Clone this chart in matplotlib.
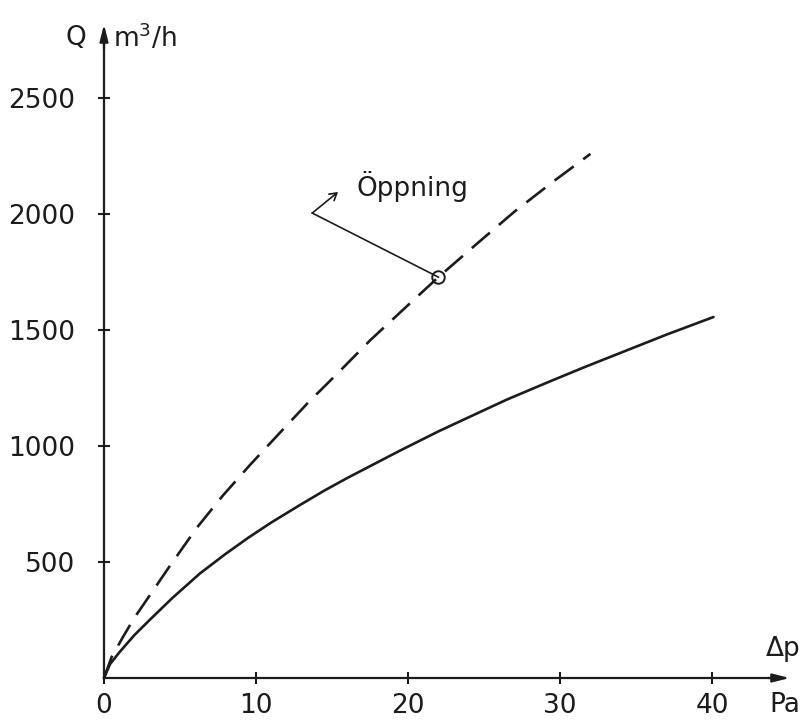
import matplotlib.pyplot as plt

# values
dp_solid = [0, 0.4, 1, 2, 3, 4.5, 6.3, 8, 9.5, 11, 12.9, 14.5, 16, 18,
            19.5, 22, 24, 26.5, 29.1, 31.5, 34, 37, 40.1]
q_solid = [0, 60, 110, 185, 250, 345, 450, 535, 605, 670, 746, 808, 862, 930,
           981, 1063, 1124, 1200, 1272, 1337, 1402, 1480, 1556]

dp_dashed = [0, 0.5, 1.25, 2, 2.8, 4.3, 6.1, 7.8, 9.6, 11.5, 13.4, 15.5,
             17.5, 19.8, 22.0, 24.5, 27.0, 29.5, 32.0]
q_dashed = [0, 90, 177, 260, 336, 480, 647, 785, 918, 1052, 1185, 1322,
            1455, 1595, 1728, 1870, 2010, 2137, 2259]

opening_point = (22.0, 1728)

x_ticks = [0, 10, 20, 30, 40]
y_ticks = [500, 1000, 1500, 2000, 2500]

ink = '#1c1c1c'
plt.rcParams['font.family'] = ['DejaVu Sans']

fig = plt.figure(figsize=(8.05, 7.21), dpi=100)
ax = fig.add_axes([0, 0, 1, 1])
ax.set_xlim(-6.842, 46.118)
ax.set_ylim(-185.3, 2922.4)

# curves
ax.plot(dp_solid, q_solid, color=ink, lw=1.9, solid_capstyle='round',
        solid_joinstyle='round')
ax.plot(dp_dashed, q_dashed, color=ink, lw=1.9, dashes=(9, 4.5))
ax.plot(*opening_point, marker='o', ms=9, mfc='none', mec=ink, mew=1.4)

# axes through the origin with arrow heads
for s in ['top', 'right']:
    ax.spines[s].set_visible(False)
ax.spines['left'].set_position(('data', 0))
ax.spines['bottom'].set_position(('data', 0))
ax.spines['left'].set_bounds(0, 2790)
ax.spines['bottom'].set_bounds(0, 44.5)
for s in ['left', 'bottom']:
    ax.spines[s].set_linewidth(1.6)
    ax.spines[s].set_color(ink)

ax.annotate('', xy=(0, 2830), xytext=(0, 2700),
            arrowprops=dict(arrowstyle='-|>,head_length=1.0,head_width=0.25',
                            color=ink, lw=1.6))
ax.annotate('', xy=(45.3, 0), xytext=(43.5, 0),
            arrowprops=dict(arrowstyle='-|>,head_length=1.0,head_width=0.25',
                            color=ink, lw=1.6))

ax.set_xticks(x_ticks)
ax.set_xticklabels([str(v) for v in x_ticks])
ax.set_yticks(y_ticks)
ax.set_yticklabels([str(v) for v in y_ticks])
ax.tick_params(axis='both', direction='inout', length=9, width=1.5,
               color=ink, labelcolor=ink, labelsize=19)
ax.tick_params(axis='x', pad=6)
ax.tick_params(axis='y', pad=16)

# axis labels
ax.text(-1.2, 2760, 'Q', fontsize=19, color=ink, ha='right', va='center')
ax.text(0.6, 2760, 'm$^3$/h', fontsize=19, color=ink, ha='left', va='center')
ax.text(44.7, 125, 'Δp', fontsize=19, color=ink, ha='center', va='center')
ax.text(44.8, -115, 'Pa', fontsize=19, color=ink, ha='center', va='center')

# leader to the marked point
ax.plot([opening_point[0], 13.7], [opening_point[1], 2004], color=ink, lw=1.2)
ax.annotate('', xy=(15.4, 2095), xytext=(13.7, 2004),
            arrowprops=dict(arrowstyle='->,head_length=0.5,head_width=0.3',
                            color=ink, lw=1.2, shrinkA=0, shrinkB=0))
ax.text(16.6, 2120, 'Öppning', fontsize=19, color=ink, ha='left', va='center')

fig.savefig('out.png', dpi=100)
